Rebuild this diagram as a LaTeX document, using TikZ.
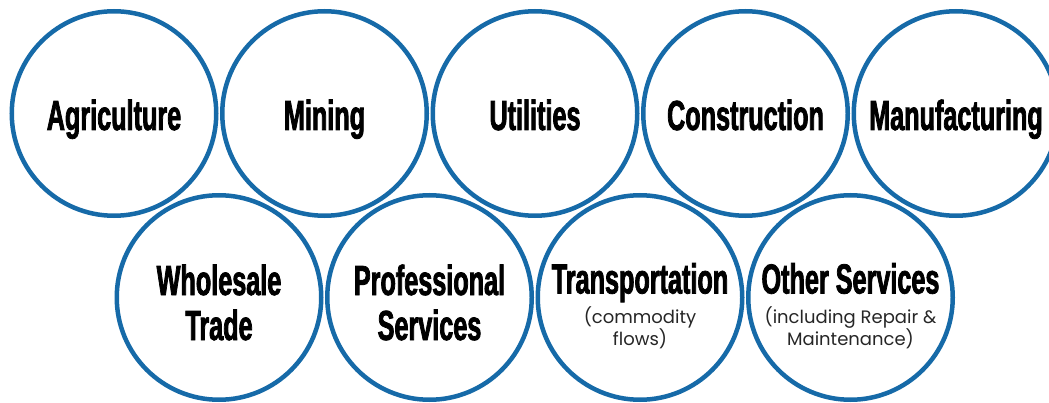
\documentclass[tikz,border=0pt]{standalone}
\usepackage{fontspec}
\setmainfont{Liberation Sans}
\newfontfamily\headfont[FakeStretch=0.6,FakeBold=1.8]{Liberation Sans Bold}
\newfontfamily\notefont{Poppins}
\usetikzlibrary{positioning}
\definecolor{ringblue}{RGB}{22,106,168}

\begin{document}
\begin{tikzpicture}[
  x=1pt,y=1pt,
  node distance=1.5pt,
  ring/.style={draw=ringblue,line width=4.5pt,circle,minimum size=204.5pt,inner sep=0pt},
  head/.style={anchor=base,align=center,inner sep=0pt,font=\headfont\fontsize{42}{45}\selectfont},
  note/.style={anchor=base,align=center,inner sep=0pt,text=black!85,font=\notefont\fontsize{18}{22.5}\selectfont}
]
\useasboundingbox (0,0) rectangle (1049,402);

% top row
\node[ring] (agri) at (114,288.5) {};
\node[ring,right=of agri] (mining) {};
\node[ring,right=of mining] (util) {};
\node[ring,right=of util] (constr) {};
\node[ring,right=of constr] (manuf) {};

% bottom row
\node[ring] (whole) at (219,104.5) {};
\node[ring,right=of whole] (prof) {};
\node[ring,right=of prof] (trans) {};
\node[ring,right=of trans] (other) {};

% labels (base = last line)
\node[head] (agrilabel) at ([yshift=-16.5pt]agri.center) {Agriculture};
\node[head] (mininglabel) at ([yshift=-16.5pt]mining.center) {Mining};
\node[head] (utillabel) at ([yshift=-16.5pt]util.center) {Utilities};
\node[head] (constrlabel) at ([yshift=-16.5pt]constr.center) {Construction};
\node[head] (manuflabel) at ([yshift=-16.5pt]manuf.center) {Manufacturing};

\node[head] (wholelabel) at ([yshift=-42.5pt]whole.center) {Wholesale\\Trade};
\node[head] (proflabel) at ([yshift=-42.5pt]prof.center) {Professional\\Services};
\node[head] (translabel) at ([yshift=4pt]trans.center) {Transportation};
\node[head] (otherlabel) at ([yshift=4pt]other.center) {Other Services};

\node[note] (transnote) at ([yshift=-48pt]trans.center) {(commodity\\flows)};
\node[note] (othernote) at ([yshift=-48pt]other.center) {(including Repair \&\\Maintenance)};
\end{tikzpicture}
\end{document}
